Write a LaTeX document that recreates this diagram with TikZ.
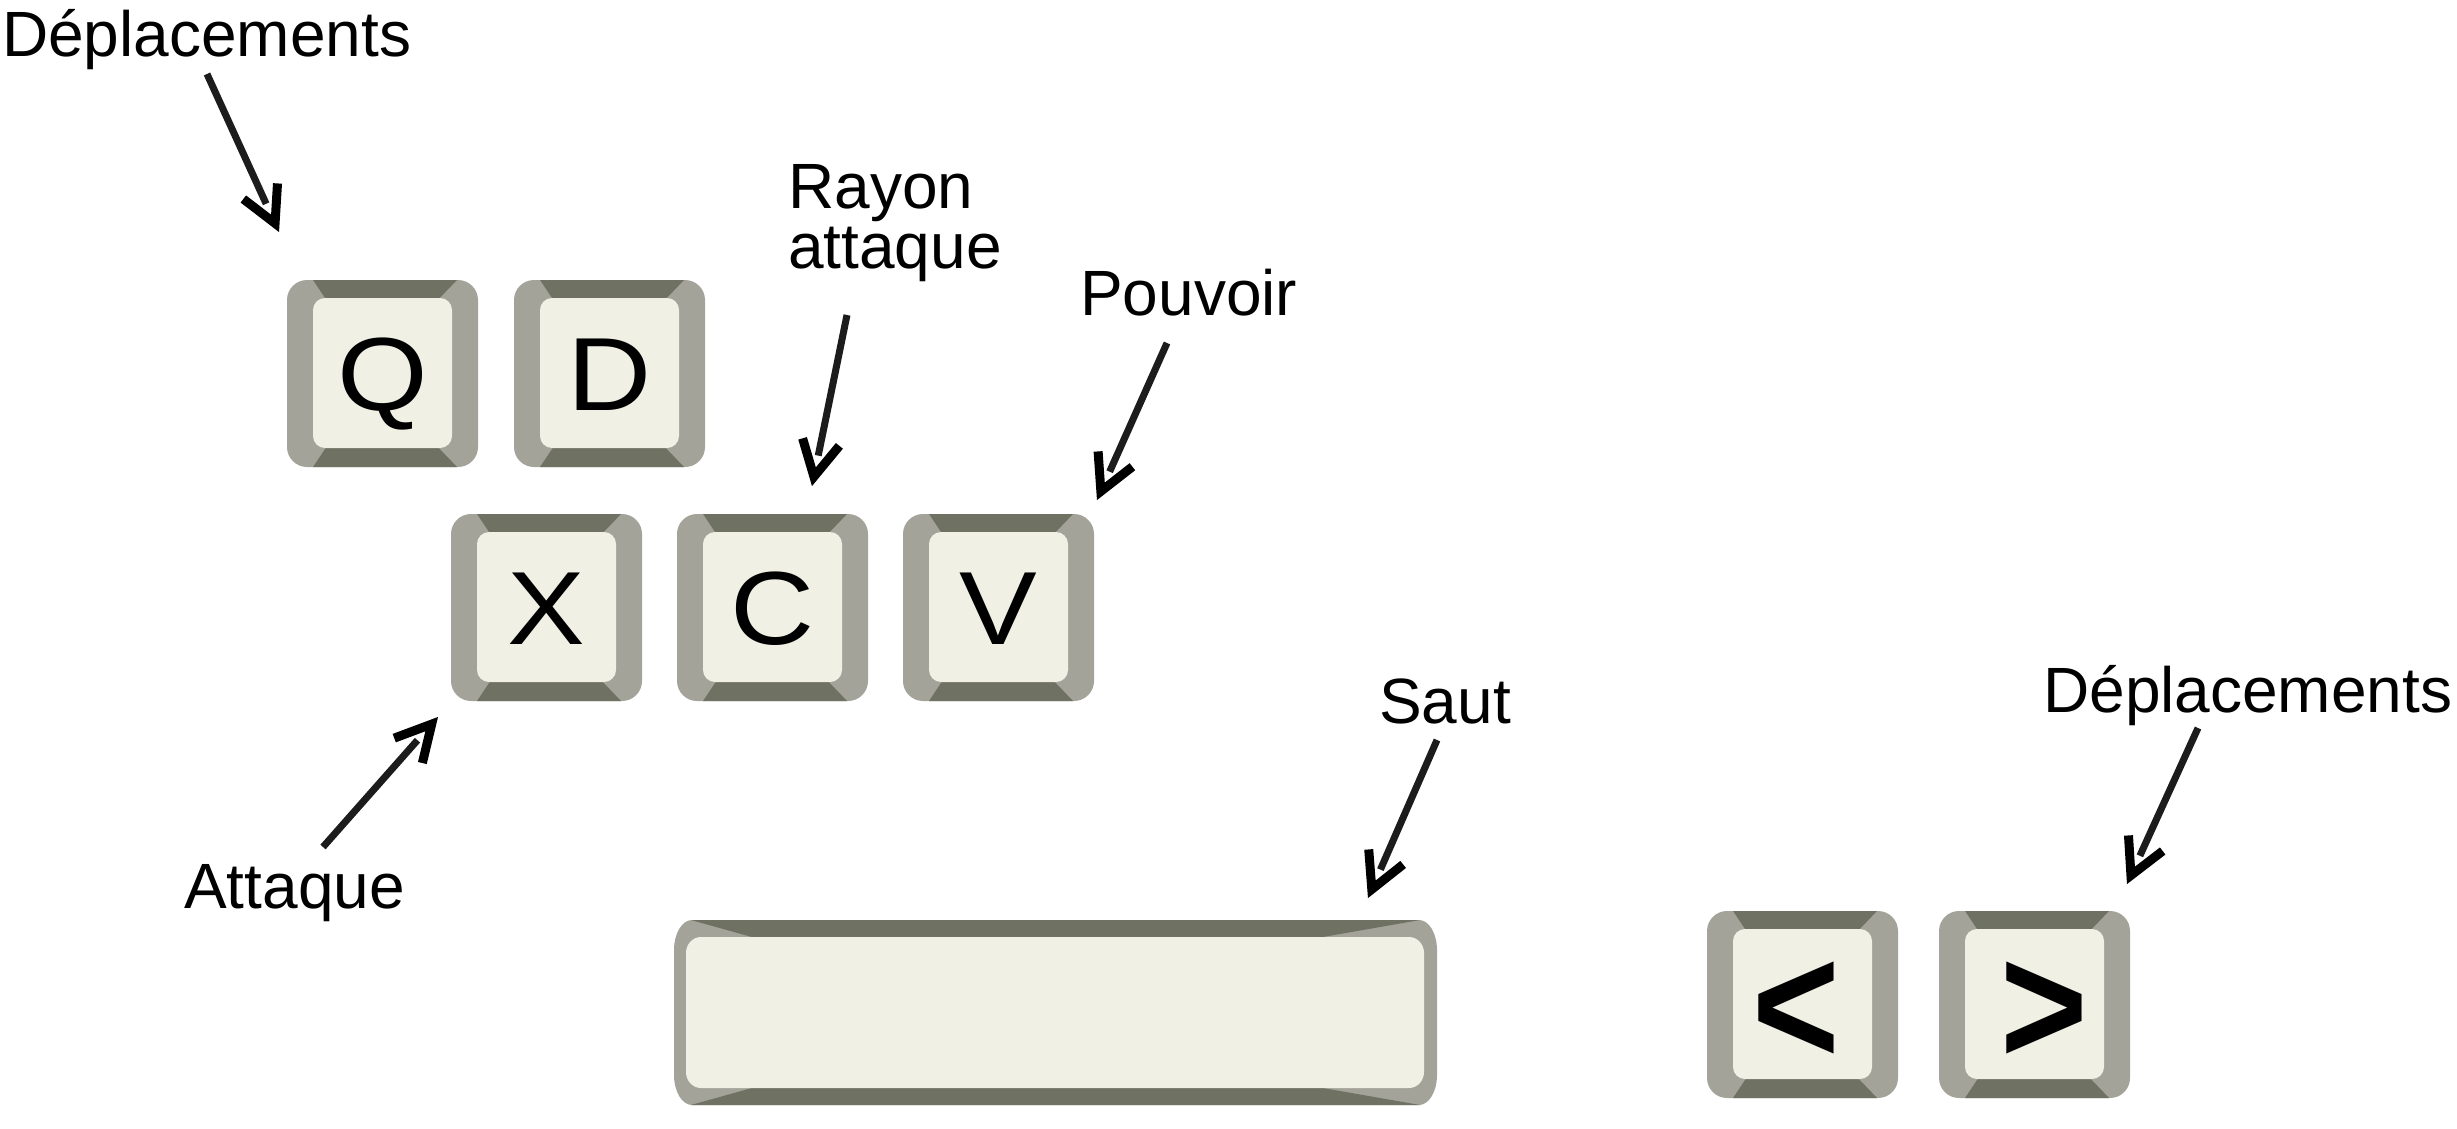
\documentclass[tikz,border=0pt]{standalone}
\usepackage{fontspec}
\setmainfont{Liberation Sans}
\usetikzlibrary{calc}
\definecolor{keylight}{HTML}{A3A39A}
\definecolor{keydark}{HTML}{6F7162}
\definecolor{keyface}{HTML}{F1F0E5}
\definecolor{shaftcol}{HTML}{1C1C1C}

\newcommand\rrpath[6]{({#1+#5},{#2}) -- ({#3-#5},{#2}) .. controls ({#3-0.448*#5},{#2}) and ({#3},{#2+0.448*#6}) .. ({#3},{#2+#6}) -- ({#3},{#4-#6}) .. controls ({#3},{#4-0.448*#6}) and ({#3-0.448*#5},{#4}) .. ({#3-#5},{#4}) -- ({#1+#5},{#4}) .. controls ({#1+0.448*#5},{#4}) and ({#1},{#4-0.448*#6}) .. ({#1},{#4-#6}) -- ({#1},{#2+#6}) .. controls ({#1},{#2+0.448*#6}) and ({#1+0.448*#5},{#2}) .. ({#1+#5},{#2}) -- cycle}

\newcommand\keycap[5]{%
\begin{scope}[shift={(#2,#3)}]
\fill[keylight] \rrpath{0}{0}{191}{187}{20}{20};
\fill[keydark] (26,0) -- (170,0) -- (147,24) -- (42,24) -- cycle;
\fill[keydark] (26,187) -- (170,187) -- (147,163) -- (42,163) -- cycle;
\fill[keyface] \rrpath{26}{18}{165}{168}{12}{12};
\node[keylabel,#5] (#1) {#4};
\end{scope}}

\newcommand\wideglyph[1]{\scalebox{1.12}[1]{#1}}
\newcommand\tallglyph[1]{\scalebox{1}[1.14]{#1}}

\newcommand\pointer[2]{%
\coordinate (#2v) at ($(#2)!9.5pt!(#1)$);
\draw[shaftline] (#1) -- ($(#2)!31pt!(#1)$);
\draw[headline] ($(#2v)!40pt!28:(#1)$) -- (#2v) -- ($(#2v)!40pt!-28:(#1)$);}

\begin{document}
\begin{tikzpicture}[x=1pt,y=-1pt,
  lbl/.style={inner sep=0pt, anchor=base west, font=\fontsize{64}{60}\selectfont},
  keylabel/.style={inner sep=0pt, anchor=base, font=\fontsize{104}{104}\selectfont},
  arrowglyph/.style={font=\fontsize{150}{150}\selectfont\bfseries},
  shaftline/.style={draw=shaftcol, line width=7pt, line cap=butt},
  headline/.style={draw=black, line width=9pt, line cap=butt, line join=miter}]
\useasboundingbox (0,0) rectangle (2457,1129);

% keys
\keycap{kq}{287}{280}{\wideglyph{Q}}{at={(95.5,130)}}
\keycap{kd}{514}{280}{\wideglyph{D}}{at={(95.5,130)}}
\keycap{kx}{451}{514}{\wideglyph{X}}{at={(95.5,130)}}
\keycap{kc}{677}{514}{\wideglyph{C}}{at={(95.5,130)}}
\keycap{kv}{903}{514}{\wideglyph{V}}{at={(95.5,130)}}
\keycap{kl}{1707}{911}{\tallglyph{<}}{arrowglyph, at={(89.5,153)}}
\keycap{kg}{1939}{911}{\tallglyph{>}}{arrowglyph, at={(105.5,153)}}

% space bar
\fill[keylight] \rrpath{674}{920}{1437}{1105}{18}{30};
\fill[keydark] (691,920) -- (1420,920) -- (1283,944) -- (777,944) -- cycle;
\fill[keydark] (691,1105) -- (1420,1105) -- (1283,1081) -- (777,1081) -- cycle;
\fill[keyface] \rrpath{686}{937}{1424}{1088}{15}{16};
\coordinate (space) at (1055,1012);

% labels
\node[lbl] (ldep1) at (2,57) {Déplacements};
\node[lbl, align=left] (lray) at (788,268) {Rayon\\attaque};
\node[lbl] (lpou) at (1080,315) {Pouvoir};
\node[lbl] (latt) at (184,908) {Attaque};
\node[lbl] (lsaut) at (1379,723) {Saut};
\node[lbl] (ldep2) at (2043,712) {Déplacements};

% pointers
\coordinate (s1) at (207,74);   \coordinate (e1) at (279,232);
\coordinate (s2) at (847,315);  \coordinate (e2) at (812,486);
\coordinate (s3) at (1167,343); \coordinate (e3) at (1097,500);
\coordinate (s4) at (323,847);  \coordinate (e4) at (438,717);
\coordinate (s5) at (1437,740); \coordinate (e5) at (1368,898);
\coordinate (s6) at (2198,728); \coordinate (e6) at (2127,884);
\pointer{s1}{e1}
\pointer{s2}{e2}
\pointer{s3}{e3}
\pointer{s4}{e4}
\pointer{s5}{e5}
\pointer{s6}{e6}
\end{tikzpicture}
\end{document}
